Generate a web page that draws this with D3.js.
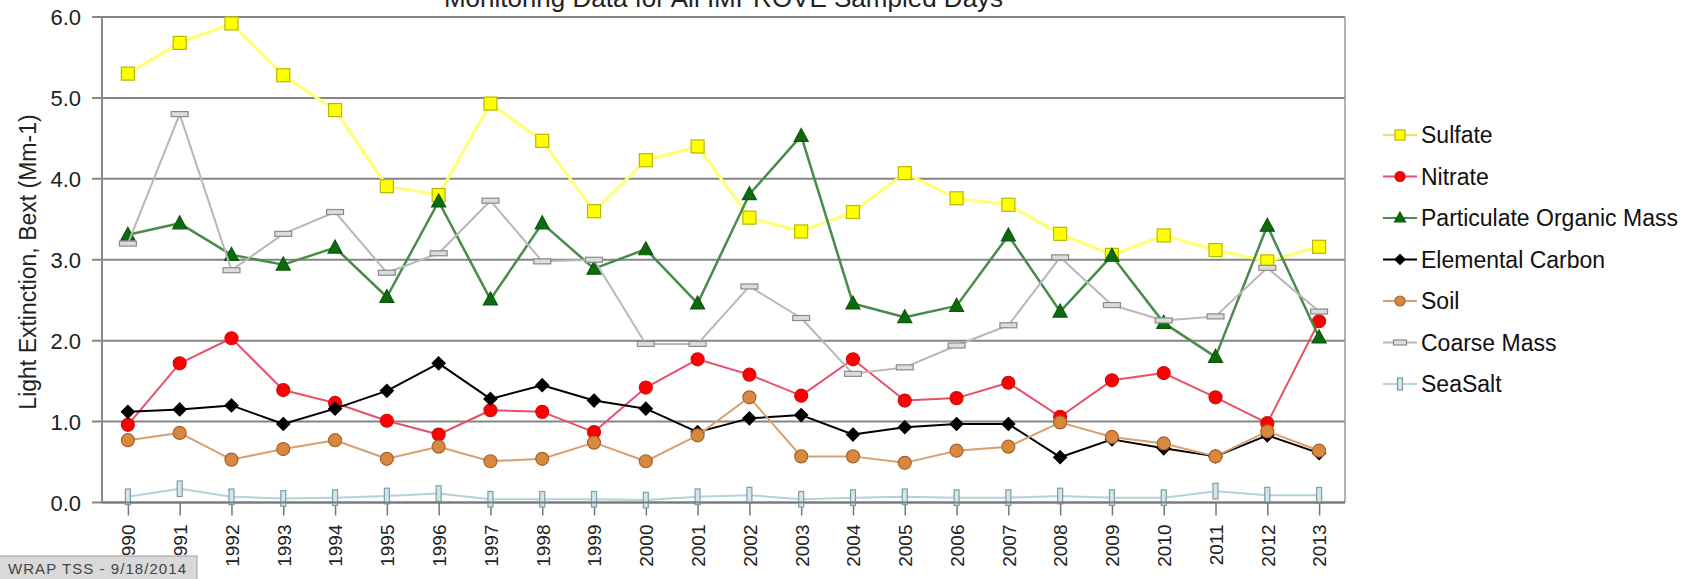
<!DOCTYPE html>
<html>
<head>
<meta charset="utf-8">
<script src="https://cdn.jsdelivr.net/npm/d3@7"></script>
<style>
  body { margin: 0; background: #fff; }
  svg { display: block; }
  text { font-family: Arial, "Liberation Sans", sans-serif; }
</style>
</head>
<body>
<div id="chart"></div>
<script>
//data (light extinction, Mm-1)
var years = ["1990", "1991", "1992", "1993", "1994", "1995", "1996", "1997", "1998", "1999", "2000", "2001",
             "2002", "2003", "2004", "2005", "2006", "2007", "2008", "2009", "2010", "2011", "2012", "2013"];

var sulfate = [5.30, 5.68, 5.92, 5.28, 4.85, 3.91, 3.80, 4.93, 4.47, 3.60, 4.23, 4.40,
               3.52, 3.35, 3.59, 4.07, 3.76, 3.68, 3.32, 3.06, 3.30, 3.12, 2.98, 3.16];
var nitrate = [0.96, 1.72, 2.03, 1.39, 1.23, 1.01, 0.84, 1.14, 1.12, 0.87, 1.42, 1.77,
               1.58, 1.32, 1.77, 1.26, 1.29, 1.48, 1.06, 1.51, 1.60, 1.30, 0.98, 2.24];
var pom     = [3.31, 3.45, 3.06, 2.94, 3.15, 2.54, 3.72, 2.51, 3.45, 2.89, 3.13, 2.46,
               3.81, 4.53, 2.46, 2.29, 2.43, 3.30, 2.36, 3.05, 2.22, 1.80, 3.42, 2.04];
var ec      = [1.12, 1.15, 1.20, 0.97, 1.16, 1.38, 1.72, 1.28, 1.45, 1.26, 1.16, 0.87,
               1.04, 1.08, 0.84, 0.93, 0.97, 0.97, 0.56, 0.78, 0.67, 0.57, 0.83, 0.61];
var soil    = [0.77, 0.86, 0.53, 0.66, 0.77, 0.54, 0.69, 0.51, 0.54, 0.74, 0.51, 0.83,
               1.30, 0.57, 0.57, 0.49, 0.64, 0.69, 0.99, 0.81, 0.73, 0.57, 0.88, 0.64];
var coarse  = [3.20, 4.80, 2.87, 3.32, 3.59, 2.84, 3.08, 3.73, 2.98, 3.00, 1.96, 1.96,
               2.67, 2.28, 1.59, 1.67, 1.94, 2.19, 3.03, 2.44, 2.25, 2.30, 2.90, 2.36];
var seasalt = [0.07, 0.17, 0.07, 0.05, 0.06, 0.08, 0.11, 0.04, 0.04, 0.04, 0.03, 0.07,
               0.09, 0.04, 0.06, 0.07, 0.06, 0.06, 0.08, 0.06, 0.06, 0.14, 0.09, 0.09];

var yTicks = [0, 1, 2, 3, 4, 5, 6];

var seriesNames = ["Sulfate", "Nitrate", "Particulate Organic Mass", "Elemental Carbon", "Soil", "Coarse Mass", "SeaSalt"];
var seriesValues = [sulfate, nitrate, pom, ec, soil, coarse, seasalt];

//look of each series: line colour + marker
var styles = [
  { line: "#ffff70", lineWidth: 3,   symbol: "square",  fill: "#ffff00", stroke: "#b8b800" },
  { line: "#e8506a", lineWidth: 2,   symbol: "circle",  fill: "#ff0000", stroke: "#cc1010" },
  { line: "#4a8a4a", lineWidth: 2.5, symbol: "triangle",fill: "#0d6b0d", stroke: "#0a5a0a" },
  { line: "#000000", lineWidth: 2,   symbol: "diamond", fill: "#000000", stroke: "#000000" },
  { line: "#d8a070", lineWidth: 2,   symbol: "circle",  fill: "#d9893e", stroke: "#a8602e" },
  { line: "#b8b8b8", lineWidth: 2,   symbol: "hbar",    fill: "#dcdcdc", stroke: "#8a8a8a" },
  { line: "#b4d2da", lineWidth: 2,   symbol: "vbar",    fill: "#d4e6ec", stroke: "#7a9ea8" }
];

var W = 1690, H = 579;
var plot = { left: 102, right: 1345, top: 17, bottom: 502.5 };

var svg = d3.select("#chart").append("svg")
  .attr("width", W)
  .attr("height", H);

var x = d3.scalePoint()
  .domain(years)
  .range([plot.left, plot.right])
  .padding(0.5);

var y = d3.scaleLinear()
  .domain([0, 6])
  .range([plot.bottom, plot.top]);

//draw a marker centred on (0,0); size = nominal width
function drawMarker(g, st, s) {
  var h = s / 2;
  switch (st.symbol) {
    case "square":
      g.append("rect").attr("x", -h).attr("y", -h).attr("width", s).attr("height", s);
      break;
    case "circle":
      g.append("circle").attr("r", h);
      break;
    case "triangle":
      g.append("path").attr("d", "M0," + (-h - 1) + "L" + (h + 0.5) + "," + (h - 1) + "L" + (-h - 0.5) + "," + (h - 1) + "Z");
      break;
    case "diamond":
      g.append("path").attr("d", "M0," + (-h) + "L" + h + ",0L0," + h + "L" + (-h) + ",0Z");
      break;
    case "hbar":
      g.append("rect").attr("x", -s * 0.65).attr("y", -2.5).attr("width", s * 1.3).attr("height", 5);
      break;
    case "vbar":
      g.append("rect").attr("x", -2.5).attr("y", -s * 0.6).attr("width", 5).attr("height", s * 1.2);
      break;
  }
  g.selectAll("*")
    .attr("fill", st.fill)
    .attr("stroke", st.stroke)
    .attr("stroke-width", 1.2);
}

//gridlines + left ticks
var grid = svg.append("g").attr("class", "grid");
grid.selectAll("line")
  .data(yTicks)
  .enter()
  .append("line")
  .attr("x1", plot.left - 10)
  .attr("x2", plot.right)
  .attr("y1", function(d) { return y(d); })
  .attr("y2", function(d) { return y(d); })
  .attr("stroke", "#858585")
  .attr("stroke-width", 2);

//plot frame
svg.append("line")
  .attr("x1", plot.left).attr("x2", plot.left)
  .attr("y1", plot.top).attr("y2", plot.bottom)
  .attr("stroke", "#8a8a8a").attr("stroke-width", 2);
svg.append("line")
  .attr("x1", plot.right).attr("x2", plot.right)
  .attr("y1", plot.top).attr("y2", plot.bottom)
  .attr("stroke", "#9a9a9a").attr("stroke-width", 1.5);

//y axis labels
var yAxis = svg.append("g")
  .attr("transform", "translate(" + (plot.left - 21) + ",0)")
  .call(d3.axisLeft(y).tickValues(yTicks).tickFormat(d3.format(".1f")).tickSize(0).tickPadding(0));
yAxis.select(".domain").remove();
yAxis.selectAll("text")
  .attr("font-size", 22)
  .attr("fill", "#222")
  .attr("dy", "0.36em");

//x axis ticks + rotated labels
var xAxis = svg.append("g")
  .attr("transform", "translate(0," + plot.bottom + ")")
  .call(d3.axisBottom(x).tickSize(13).tickPadding(0));
xAxis.select(".domain").remove();
xAxis.selectAll(".tick line")
  .attr("stroke", "#777")
  .attr("stroke-width", 1.5);
xAxis.selectAll("text")
  .attr("font-size", 19)
  .attr("fill", "#222")
  .attr("text-anchor", "end")
  .attr("transform", "translate(0,22) rotate(-90)")
  .attr("x", 0)
  .attr("y", 0)
  .attr("dy", "0.36em");

//series: line, then markers; later series drawn on top
seriesValues.forEach(function(vals, k) {
  var st = styles[k];
  var pts = years.map(function(yr, i) { return [yr, vals[i]]; });

  svg.append("path")
    .datum(pts)
    .attr("fill", "none")
    .attr("stroke", st.line)
    .attr("stroke-width", st.lineWidth)
    .attr("stroke-linejoin", "round")
    .attr("d", d3.line()
      .x(function(d) { return x(d[0]); })
      .y(function(d) { return y(d[1]); }));

  svg.append("g").selectAll("g")
    .data(pts)
    .enter()
    .append("g")
    .attr("transform", function(d) { return "translate(" + x(d[0]) + "," + y(d[1]) + ")"; })
    .each(function() { drawMarker(d3.select(this), st, 13); });
});

//bottom axis line over the markers
svg.append("line")
  .attr("x1", plot.left).attr("x2", plot.right)
  .attr("y1", plot.bottom).attr("y2", plot.bottom)
  .attr("stroke", "#7a7a7a").attr("stroke-width", 2);

//title (mostly cut off at top in the original)
svg.append("text")
  .attr("x", (plot.left + plot.right) / 2)
  .attr("y", 7)
  .attr("text-anchor", "middle")
  .attr("font-size", 26)
  .attr("fill", "#222")
  .text("Monitoring Data for All IMPROVE Sampled Days");

//y axis title
svg.append("text")
  .attr("transform", "translate(36,262) rotate(-90)")
  .attr("text-anchor", "middle")
  .attr("font-size", 23)
  .attr("fill", "#222")
  .text("Light Extinction, Bext (Mm-1)");

//legend
var legend = svg.append("g").attr("class", "legend");
seriesNames.forEach(function(name, k) {
  var st = styles[k];
  var ly = 135 + k * 41.5;
  var row = legend.append("g").attr("transform", "translate(1400," + ly + ")");
  row.append("line")
    .attr("x1", -17).attr("x2", 17)
    .attr("stroke", st.line === "#ffff70" ? "#e8e860" : st.line)
    .attr("stroke-width", 2);
  drawMarker(row.append("g"), st, 10);
  row.append("text")
    .attr("x", 21)
    .attr("dy", "0.36em")
    .attr("font-size", 23)
    .attr("fill", "#111")
    .text(name);
});

//stamp box in lower-left corner
var stamp = svg.append("g");
stamp.append("rect")
  .attr("x", -1).attr("y", 556)
  .attr("width", 198).attr("height", 30)
  .attr("fill", "#d9d9d9")
  .attr("stroke", "#a0a0a0");
stamp.append("text")
  .attr("x", 8).attr("y", 574)
  .attr("font-size", 15)
  .attr("fill", "#444")
  .attr("textLength", 178)
  .text("WRAP TSS - 9/18/2014");
</script>
</body>
</html>
